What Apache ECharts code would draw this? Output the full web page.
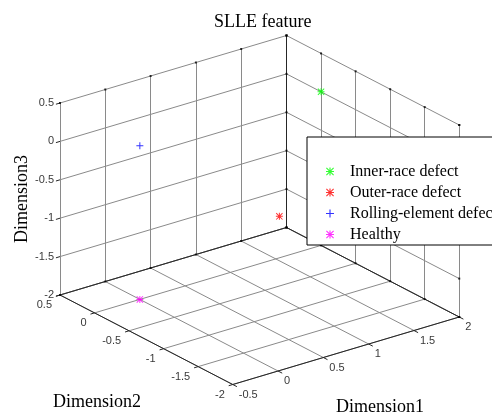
<!DOCTYPE html>
<html>
<head>
<meta charset="utf-8">
<script src="https://cdn.jsdelivr.net/npm/echarts@6/dist/echarts.min.js"></script>
<style>
html, body { margin: 0; padding: 0; background: #fff; }
#chart { width: 492px; height: 415px; }
</style>
</head>
<body>
<div id="chart"></div>
<script>
// data
const classNames = ['Inner-race defect', 'Outer-race defect', 'Rolling-element defect', 'Healthy'];
const dim1 = [2, 1.54, 0, 0];
const dim2 = [0, 0, 0, 0];
const dim3 = [0, -1.46, 0, -2];
const classColors = ['#00ff00', '#ff0000', '#0000ff', '#ff00ff'];

const xTicks = [-0.5, 0, 0.5, 1, 1.5, 2];
const yTicks = [-2, -1.5, -1, -0.5, 0, 0.5];
const zTicks = [-2, -1.5, -1, -0.5, 0, 0.5];

// marker shapes (matlab '*' and '+')
const PLUS = 'path://M3,0H4V3H7V4H4V7H3V4H0V3H3Z';
const STAR = 'path://M3,0H4V3H7V4H4V7H3V4H0V3H3Z M0,0.7L0.7,0L7,6.3L6.3,7Z M6.3,0L7,0.7L0.7,7L0,6.3Z';
const classSymbols = [STAR, STAR, PLUS, STAR];

// box limits
const X0 = xTicks[0], X1 = xTicks[xTicks.length - 1];
const Y0 = yTicks[0], Y1 = yTicks[yTicks.length - 1];
const Z0 = zTicks[0], Z1 = zTicks[zTicks.length - 1];

// view: screen step per data unit along each axis (orthographic)
const ORIGIN = [60, 295];            // corner x=X0, y=Y1, z=Z0
const EX = [90.6, -27];
const EY = [-69.1, -35.8];
const EZ = [0, -76.8];
function proj(x, y, z) {
  return [
    ORIGIN[0] + EX[0] * (x - X0) + EY[0] * (y - Y1) + EZ[0] * (z - Z0),
    ORIGIN[1] + EX[1] * (x - X0) + EY[1] * (y - Y1) + EZ[1] * (z - Z0)
  ];
}

// grid on the three back planes
const gridSegs = [];
xTicks.forEach(x => {
  gridSegs.push([proj(x, Y1, Z0), proj(x, Y1, Z1)]);
  gridSegs.push([proj(x, Y0, Z0), proj(x, Y1, Z0)]);
});
yTicks.forEach(y => {
  gridSegs.push([proj(X1, y, Z0), proj(X1, y, Z1)]);
  gridSegs.push([proj(X0, y, Z0), proj(X1, y, Z0)]);
});
zTicks.forEach(z => {
  gridSegs.push([proj(X0, Y1, z), proj(X1, Y1, z)]);
  gridSegs.push([proj(X1, Y0, z), proj(X1, Y1, z)]);
});

// dark box edges
const edgeSegs = [
  [proj(X0, Y0, Z0), proj(X1, Y0, Z0)],
  [proj(X0, Y0, Z0), proj(X0, Y1, Z0)],
  [proj(X0, Y1, Z0), proj(X1, Y1, Z0)],
  [proj(X1, Y0, Z0), proj(X1, Y1, Z0)],
  [proj(X1, Y1, Z0), proj(X1, Y1, Z1)]
];

// outward ticks on the three labelled axes
const tickSegs = [];
zTicks.forEach(z => tickSegs.push([proj(X0, Y1, z), proj(X0 - 0.045, Y1, z)]));
yTicks.forEach(y => tickSegs.push([proj(X0, y, Z0), proj(X0 - 0.045, y, Z0)]));
xTicks.forEach(x => tickSegs.push([proj(x, Y0, Z0), proj(x, Y0 - 0.06, Z0)]));

// small tick dots on the back edges
const tickDots = [];
xTicks.forEach(x => { tickDots.push(proj(x, Y1, Z1)); tickDots.push(proj(x, Y1, Z0)); });
yTicks.forEach(y => { tickDots.push(proj(X1, y, Z1)); tickDots.push(proj(X1, y, Z0)); });
zTicks.forEach(z => { tickDots.push(proj(X1, Y1, z)); tickDots.push(proj(X1, Y0, z)); });

const zLabels = zTicks.map(z => proj(X0, Y1, z).concat(String(z)));
const yLabels = yTicks.map(y => proj(X0, y, Z0).concat(String(y)));
const xLabels = xTicks.map(x => proj(x, Y0, Z0).concat(String(x)));

const serif = '"Liberation Serif", "Times New Roman", serif';
const sans = '"Liberation Sans", Arial, sans-serif';

function segSeries(segs, color) {
  return {
    type: 'lines', coordinateSystem: 'cartesian2d', silent: true,
    data: segs.map(c => ({ coords: c })),
    lineStyle: { color: color, width: 1, opacity: 1 }, z: 1
  };
}
function labelSeries(data, pos, align) {
  return {
    type: 'scatter', symbolSize: 0, silent: true, data: data,
    label: {
      show: true, position: pos, align: align, verticalAlign: 'middle',
      formatter: p => p.value[2], color: '#000', fontFamily: sans, fontSize: 11
    }
  };
}

const series = [
  segSeries(gridSegs, '#8a8a8a'),
  segSeries(edgeSegs, '#262626'),
  segSeries(tickSegs, '#262626'),
  { type: 'scatter', silent: true, symbol: 'rect', symbolSize: 2, data: tickDots, itemStyle: { color: '#000' }, z: 2 },
  labelSeries(zLabels, [-6, 0], 'right'),
  labelSeries(yLabels, [-8, 10], 'right'),
  labelSeries(xLabels, [6, 10], 'left')
];
classNames.forEach((name, i) => {
  series.push({
    name: name, type: 'scatter', symbol: classSymbols[i], symbolSize: 7, symbolKeepAspect: true,
    itemStyle: { color: classColors[i] }, z: 3,
    data: [proj(dim1[i], dim2[i], dim3[i])]
  });
});

const chart = echarts.init(document.getElementById('chart'));
chart.setOption({
  animation: false,
  backgroundColor: '#fff',
  title: {
    text: 'SLLE feature', left: 209, top: 8,
    textStyle: { fontFamily: serif, fontSize: 18, fontWeight: 'normal', color: '#000' }
  },
  grid: { left: 0, right: 0, top: 0, bottom: 0 },
  xAxis: { type: 'value', min: 0, max: 492, show: false },
  yAxis: { type: 'value', min: 0, max: 415, inverse: true, show: false },
  legend: {
    data: classNames, orient: 'vertical', left: 307, top: 137,
    padding: [24, 60, 0, 19], itemGap: 0, itemWidth: 30, itemHeight: 8,
    backgroundColor: '#fff', borderColor: '#000', borderWidth: 1, borderRadius: 0,
    selectedMode: false, z: 10,
    textStyle: { fontFamily: serif, fontSize: 16, lineHeight: 21, color: '#000' }
  },
  graphic: [
    { type: 'text', left: 13, top: 155, rotation: Math.PI / 2,
      style: { text: 'Dimension3', font: '18px ' + serif, fill: '#000' } },
    { type: 'text', left: 53, top: 393, style: { text: 'Dimension2', font: '18px ' + serif, fill: '#000' } },
    { type: 'text', left: 336, top: 398, style: { text: 'Dimension1', font: '18px ' + serif, fill: '#000' } }
  ],
  series: series
});
</script>
</body>
</html>
